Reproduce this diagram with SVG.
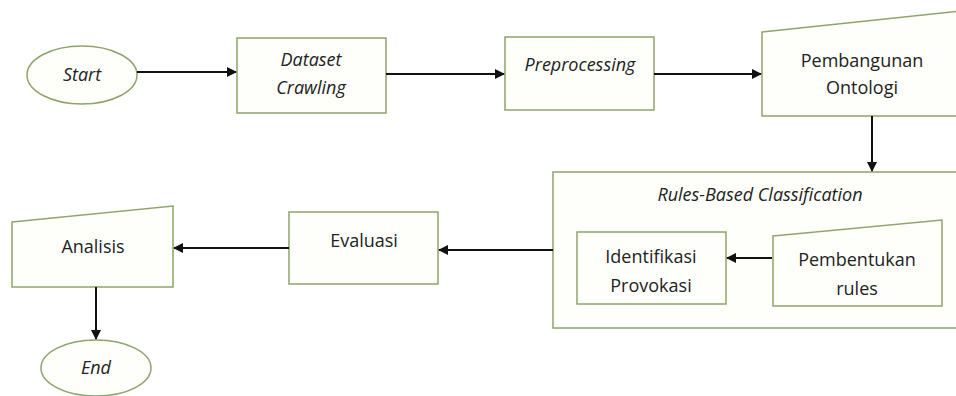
<svg xmlns="http://www.w3.org/2000/svg" width="956" height="396" viewBox="0 0 956 396">
<defs>
<marker id="ah" markerWidth="10" markerHeight="10" refX="9" refY="5" orient="auto" markerUnits="userSpaceOnUse">
<path d="M0,0 L10,5 L0,10 Z" fill="#111"/>
</marker>
<style>
.shape{fill:#fefffb;stroke:#8ea46c;stroke-width:1.5}
.t{font-family:"Open Sans","Liberation Sans",sans-serif;font-size:18px;fill:#222;text-anchor:middle}
.i{font-style:italic}
.c{stroke:#111;stroke-width:2;fill:none;marker-end:url(#ah)}
</style>
</defs>
<rect width="956" height="396" fill="#ffffff"/>
<g id="start">
<ellipse class="shape" cx="82" cy="75" rx="55" ry="29"/>
<text class="t i" x="82" y="81">Start</text>
</g>
<g id="dataset-crawling">
<rect class="shape" x="237" y="38" width="149" height="75"/>
<text class="t i" x="311" y="66">Dataset</text>
<text class="t i" x="311" y="94">Crawling</text>
</g>
<g id="preprocessing">
<rect class="shape" x="505" y="37" width="149" height="73"/>
<text class="t i" x="580" y="71">Preprocessing</text>
</g>
<g id="pembangunan-ontologi">
<path class="shape" d="M762,32 L960,11 L960,116 L762,116 Z"/>
<text class="t" x="862" y="67">Pembangunan</text>
<text class="t" x="862" y="94">Ontologi</text>
</g>
<g id="rules-based-classification">
<rect class="shape" x="553" y="172" width="410" height="156"/>
<text class="t i" x="760" y="201">Rules-Based Classification</text>
</g>
<g id="identifikasi-provokasi">
<rect class="shape" x="577" y="232" width="149" height="72"/>
<text class="t" x="651" y="263">Identifikasi</text>
<text class="t" x="651" y="292">Provokasi</text>
</g>
<g id="pembentukan-rules">
<path class="shape" d="M773,236 L942,220 L942,306 L773,306 Z"/>
<text class="t" x="857" y="266">Pembentukan</text>
<text class="t" x="857" y="295">rules</text>
</g>
<g id="evaluasi">
<rect class="shape" x="289" y="212" width="149" height="72"/>
<text class="t" x="364" y="247">Evaluasi</text>
</g>
<g id="analisis">
<path class="shape" d="M12,222 L173,206 L173,287 L12,287 Z"/>
<text class="t" x="93" y="253">Analisis</text>
</g>
<g id="end">
<ellipse class="shape" cx="96" cy="368" rx="55" ry="28"/>
<text class="t i" x="96" y="374">End</text>
</g>
<g id="connectors">
<line class="c" x1="137" y1="72" x2="236" y2="72"/>
<line class="c" x1="386" y1="74" x2="504" y2="74"/>
<line class="c" x1="654" y1="74" x2="761" y2="74"/>
<line class="c" x1="872" y1="116" x2="872" y2="171"/>
<line class="c" x1="553" y1="250" x2="439" y2="250"/>
<line class="c" x1="289" y1="248" x2="174" y2="248"/>
<line class="c" x1="96" y1="287" x2="96" y2="339"/>
<line class="c" x1="772" y1="258" x2="727" y2="258"/>
</g>
</svg>
